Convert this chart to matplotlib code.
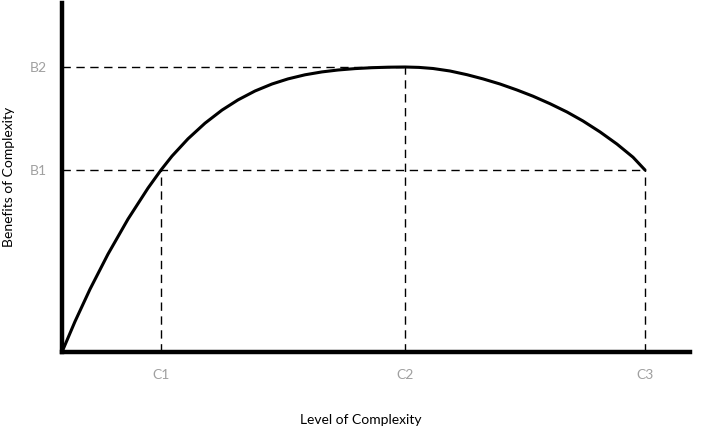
import matplotlib.pyplot as plt

# levels of complexity (x) and benefit levels (y)
c_names = ['C1', 'C2', 'C3']
c_values = [99, 343, 583]
b_names = ['B1', 'B2']
b_values = [182, 285]

# benefit curve, traced by eye
curve_x = [0, 13, 28, 46, 66, 86, 99, 110, 126, 143, 160, 176, 193, 210, 226,
           243, 260, 276, 293, 310, 326, 343, 357, 371, 388, 405, 421, 438,
           455, 471, 488, 505, 521, 538, 555, 571, 583]
curve_y = [0, 30.5, 62.8, 97.9, 132.9, 163.9, 182, 195.9, 213.2, 228.8, 241.9,
           252.1, 261, 268, 273.1, 277.2, 280.1, 282, 283.4, 284.3, 284.8, 285,
           284.6, 283.5, 281, 277.3, 273.1, 268, 262, 255.8, 248.3, 240, 231,
           220.1, 207.9, 194.8, 182]

plt.rcParams['font.family'] = ['Lato', 'DejaVu Sans']

fig = plt.figure(figsize=(7.2, 4.3), dpi=100)
ax = fig.add_axes([62 / 720, 1 - 352 / 430, 628 / 720, 349 / 430])
ax.set_xlim(0, 628)
ax.set_ylim(0, 349)

dash = dict(color='black', lw=1.0, ls=(0, (6, 4)), zorder=1)
# horizontal guides
ax.plot([0, c_values[2]], [b_values[0], b_values[0]], **dash)
ax.plot([0, c_values[1]], [b_values[1], b_values[1]], **dash)
# vertical guides
ax.plot([c_values[0], c_values[0]], [0, b_values[0]], **dash)
ax.plot([c_values[1], c_values[1]], [0, b_values[1]], **dash)
ax.plot([c_values[2], c_values[2]], [0, b_values[0]], **dash)

ax.plot(curve_x, curve_y, color='black', lw=2.2, solid_capstyle='round',
        solid_joinstyle='round', zorder=3)

for side in ['top', 'right']:
    ax.spines[side].set_visible(False)
for side in ['left', 'bottom']:
    ax.spines[side].set_linewidth(3.2)
    ax.spines[side].set_color('black')

ax.set_xticks(c_values)
ax.set_xticklabels(c_names)
ax.set_yticks(b_values)
ax.set_yticklabels(b_names)
ax.tick_params(axis='x', length=0, pad=12, labelsize=10, labelcolor='#a0a0a0')
ax.tick_params(axis='y', length=0, pad=11, labelsize=10, labelcolor='#a0a0a0')

fig.text(361 / 720, 1 - 420 / 430, 'Level of Complexity', ha='center', va='center',
         fontsize=10)
fig.text(9 / 720, 1 - 177 / 430, 'Benefits of Complexity', ha='center', va='center',
         rotation=90, fontsize=10)

fig.savefig('out.png', dpi=100)
